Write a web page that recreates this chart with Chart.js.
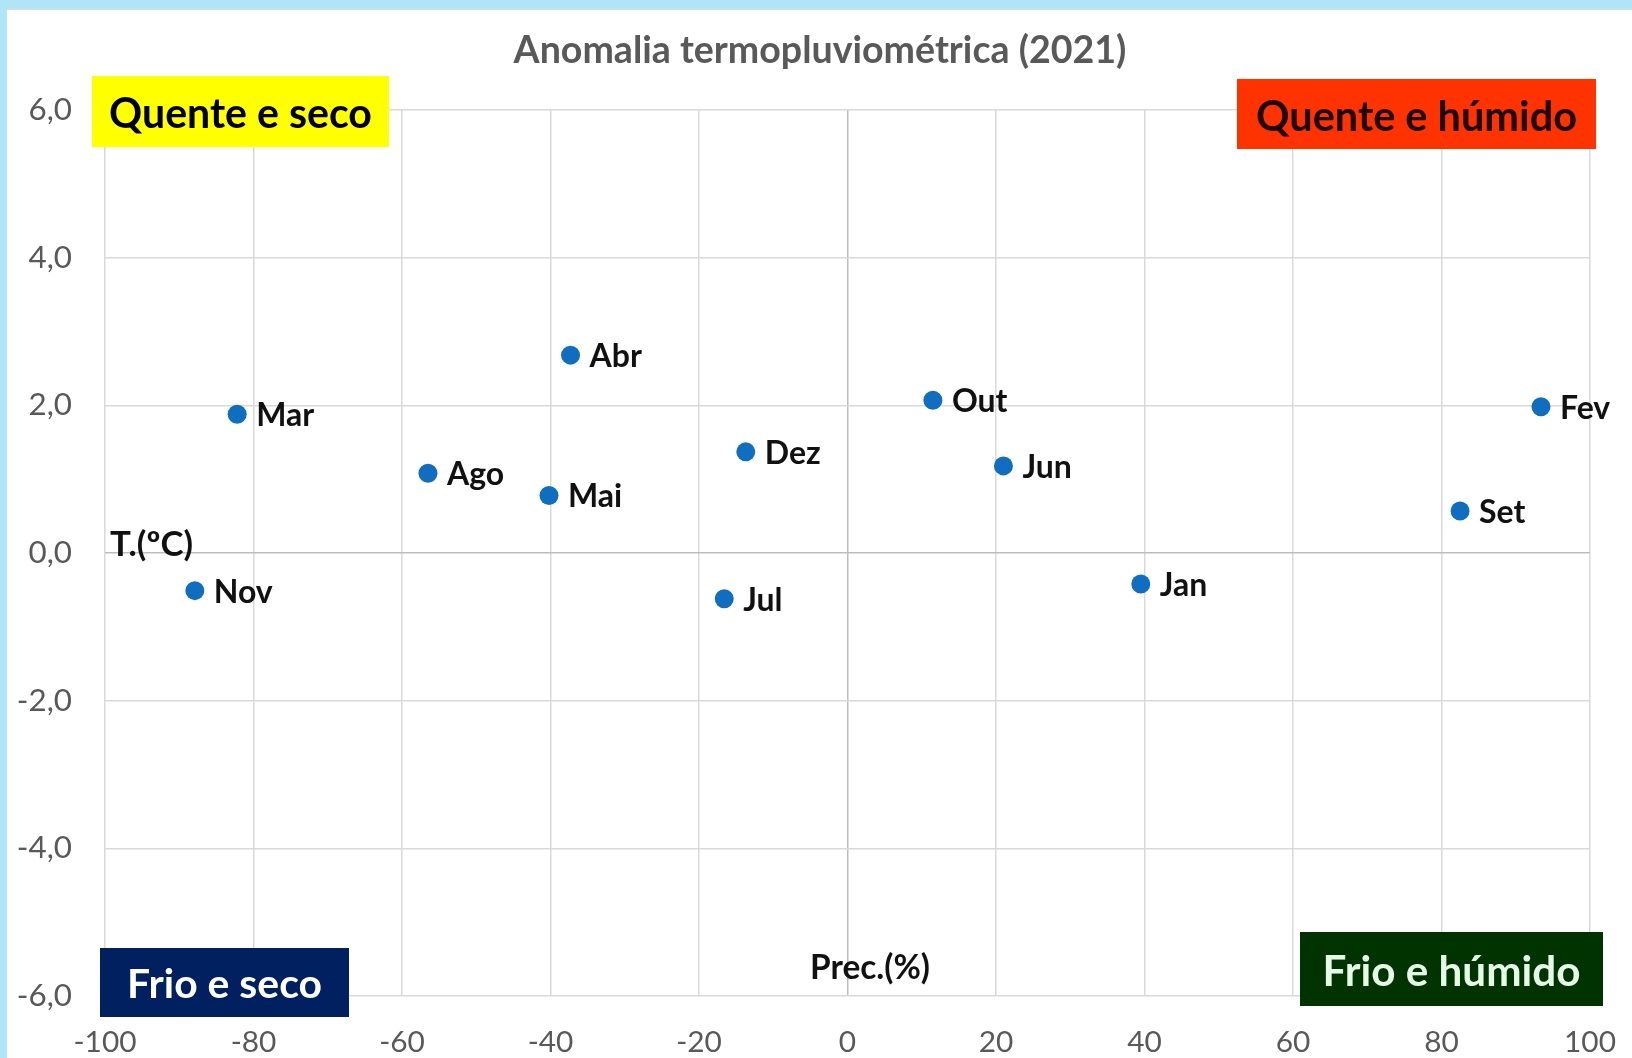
<!DOCTYPE html>
<html>
<head>
<meta charset="utf-8">
<script src="https://cdn.jsdelivr.net/npm/chart.js@4.4.1/dist/chart.umd.min.js"></script>
<style>
html,body{margin:0;padding:0;background:#fff;overflow:hidden}
#wrap{position:absolute;left:0;top:0;width:1632px;height:1058px}
</style>
</head>
<body>
<div id="wrap"><canvas id="c"></canvas></div>
<script>
// ---------- DATA ----------
const months    = ['Jan','Fev','Mar','Abr','Mai','Jun','Jul','Ago','Set','Out','Nov','Dez'];
const precAnom  = [39.5, 93.4, -82.2, -37.3, -40.2, 21.0, -16.6, -56.5, 82.5, 11.5, -87.9, -13.7];
const tempAnom  = [-0.42, 1.98, 1.88, 2.68, 0.78, 1.18, -0.62, 1.08, 0.57, 2.07, -0.51, 1.37];
const xTickValues = [-100,-80,-60,-40,-20,0,20,40,60,80,100];
const xTickLabels = ['-100','-80','-60','-40','-20','0','20','40','60','80','100'];
const yTickValues = [-6,-4,-2,0,2,4,6];
const yTickLabels = ['-6,0','-4,0','-2,0','0,0','2,0','4,0','6,0'];
const chartTitle = 'Anomalia termopluviométrica (2021)';
const xAxisTitle = 'Prec.(%)';
const yAxisTitle = 'T.(ºC)';
const quadrantTexts = ['Quente e seco','Quente e húmido','Frio e seco','Frio e húmido'];

// ---------- STYLE / LAYOUT ----------
const FONT = 'Lato, "Open Sans", "DejaVu Sans", sans-serif';
const quadrantStyle = [
  {box:[92,76,297,71],   textW:263, bg:'#FFFF00', fg:'#000000'},
  {box:[1237,79,359,70], textW:321, bg:'#FF3300', fg:'#1a0000'},
  {box:[100,948,249,69], textW:195, bg:'#002060', fg:'#ffffff'},
  {box:[1300,932,303,74],textW:258, bg:'#003300', fg:'#e6fbe6'}
];
const mctx = document.createElement('canvas').getContext('2d');
function fitSize(text, weight, target){
  mctx.font = weight + ' 100px ' + FONT;
  return 100 * target / mctx.measureText(text).width;
}
function capH(ctx){ return ctx.measureText('H').actualBoundingBoxAscent; }
function drawCapText(ctx, text, weight, size, color, x, capCenterY, align){
  ctx.save();
  ctx.font = weight + ' ' + size + 'px ' + FONT;
  ctx.fillStyle = color;
  ctx.textAlign = align || 'left';
  ctx.textBaseline = 'alphabetic';
  ctx.fillText(text, x, capCenterY + capH(ctx)/2);
  ctx.restore();
}

const xTickSize = fitSize('-100','normal',63);
const yTickSize = fitSize('6,0','normal',43.5);
const labelSize = fitSize('Mar','bold',58);
const titleSize = fitSize(chartTitle,'bold',613);

const decor = {
  id:'decor',
  beforeDraw(chart){
    const ctx = chart.ctx;
    ctx.save();
    ctx.fillStyle = '#ffffff';
    ctx.fillRect(0,0,chart.width,chart.height);
    ctx.fillStyle = '#AEE5F7';
    ctx.fillRect(0,0,chart.width,9);
    ctx.fillRect(0,0,7,chart.height);
    ctx.fillStyle = '#dedede';
    ctx.fillRect(7,9,chart.width-7,1);
    ctx.restore();
    drawCapText(ctx, chartTitle, 'bold', titleSize, '#595959', 820, 49, 'center');
  },
  afterDatasetsDraw(chart){
    const ctx = chart.ctx;
    const meta = chart.getDatasetMeta(0);
    meta.data.forEach((pt,i)=>{
      drawCapText(ctx, months[i], 'bold', labelSize, '#111111', pt.x + 19, pt.y, 'left');
    });
    drawCapText(ctx, yAxisTitle, 'bold', fitSize(yAxisTitle,'bold',83), '#111111', 110, 543, 'left');
    drawCapText(ctx, xAxisTitle, 'bold', fitSize(xAxisTitle,'bold',120), '#111111', 810, 966, 'left');
    quadrantTexts.forEach((t,i)=>{
      const s = quadrantStyle[i];
      const [bx,by,bw,bh] = s.box;
      ctx.save();
      ctx.fillStyle = s.bg;
      ctx.fillRect(bx,by,bw,bh);
      ctx.restore();
      drawCapText(ctx, t, 'bold', fitSize(t,'bold',s.textW), s.fg, bx + bw/2, by + bh/2 + 1, 'center');
    });
  }
};

const gridColor = c => (c.tick && c.tick.value === 0) ? '#bdbdbd' : '#d9d9d9';

new Chart(document.getElementById('c'), {
  type:'scatter',
  data:{
    datasets:[{
      label:'Anomalia',
      data: months.map((m,i)=>({x:precAnom[i], y:tempAnom[i]})),
      backgroundColor:'#0F6EC0',
      borderColor:'#0F6EC0',
      borderWidth:0,
      pointRadius:9.5,
      pointHoverRadius:9.5
    }]
  },
  options:{
    responsive:true,
    maintainAspectRatio:false,
    animation:false,
    events:[],
    layout:{padding:{top:110,right:42,bottom:0,left:0}},
    plugins:{legend:{display:false}, title:{display:false}, tooltip:{enabled:false}},
    scales:{
      x:{
        type:'linear', min:-100, max:100,
        afterBuildTicks(s){ s.ticks = xTickValues.map(v=>({value:v})); },
        afterFit(s){ s.height = 62; s.paddingLeft = 0; s.paddingRight = 0; },
        grid:{color:gridColor, lineWidth:1.5, drawTicks:false},
        border:{display:false},
        ticks:{
          padding: 46 - 0.6*xTickSize,
          color:'#595959',
          font:{family:FONT, size:xTickSize},
          callback:(v)=>xTickLabels[xTickValues.indexOf(v)]
        }
      },
      y:{
        type:'linear', min:-6, max:6,
        afterBuildTicks(s){ s.ticks = yTickValues.map(v=>({value:v})); },
        afterFit(s){ s.width = 105; s.paddingTop = 0; s.paddingBottom = 0; },
        grid:{color:gridColor, lineWidth:1.5, drawTicks:false},
        border:{display:false},
        ticks:{
          padding:33,
          color:'#595959',
          font:{family:FONT, size:yTickSize},
          callback:(v)=>yTickLabels[yTickValues.indexOf(v)]
        }
      }
    }
  },
  plugins:[decor]
});
</script>
</body>
</html>
